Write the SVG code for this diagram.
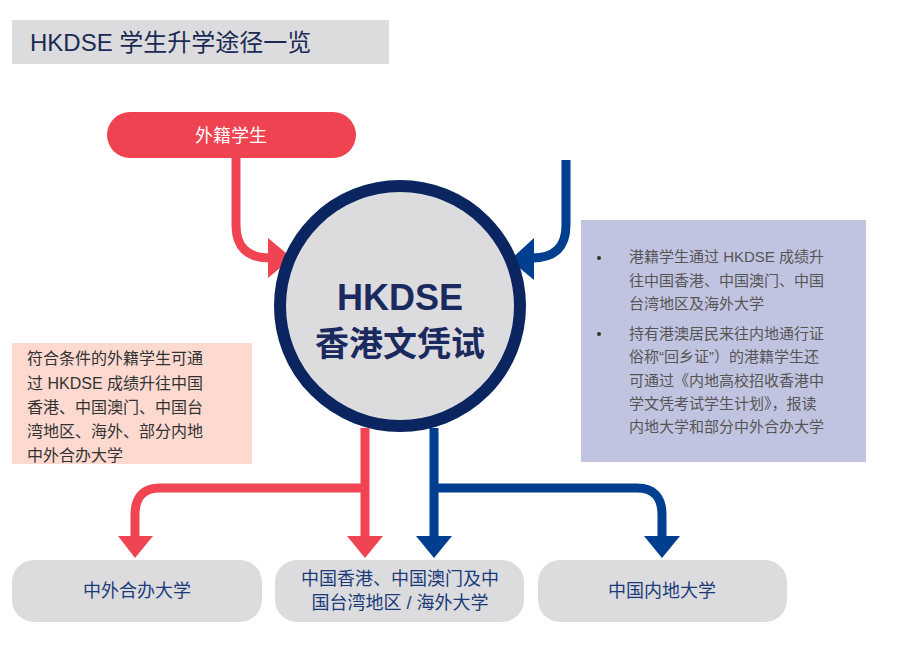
<svg xmlns="http://www.w3.org/2000/svg" width="920" height="659" viewBox="0 0 920 659">
<style>
text{font-family:"Liberation Sans","Noto Sans CJK SC",sans-serif}
.red{fill:none;stroke:#f04452;stroke-width:9}
.blue{fill:none;stroke:#003f8f;stroke-width:9}
.gbox{fill:#dcdcde}
.bt{fill:#1b3a7a;font-size:18px;text-anchor:middle}
.nt{fill:#555;font-size:15px}
.pt{fill:#333;font-size:16px}
</style>
<rect width="920" height="659" fill="#fff"/>
<g id="title"><rect x="12" y="20" width="377" height="44" fill="#dcdcde"/><text x="30" y="51" font-size="24" fill="#1b2a55">HKDSE 学生升学途径一览</text></g>
<g id="connectors">
<path class="red" d="M236 158 V225 Q236 258 270 258"/>
<polygon points="268,238 292,258 268,278" fill="#f04452"/>
<path class="blue" d="M566 160 V225 Q566 258 532 258"/>
<polygon points="534,238 510,260 534,280" fill="#003f8f"/>
<path class="red" d="M365 428 V540 M365 488 H160 Q135 488 135 515 V540"/>
<polygon points="118,536 153,536 135,558" fill="#f04452"/>
<polygon points="347,536 383,536 365,558" fill="#f04452"/>
<path class="blue" d="M434 428 V540 M434 488 H637 Q662 488 662 515 V540"/>
<polygon points="416,536 452,536 434,558" fill="#003f8f"/>
<polygon points="644,536 680,536 662,558" fill="#003f8f"/>
</g>
<g id="foreign"><rect x="107" y="112" width="249" height="46" rx="23" fill="#f04352"/><text x="231" y="142" font-size="18" fill="#fff" text-anchor="middle">外籍学生</text></g>
<g id="hkdse"><circle cx="400" cy="306" r="120" fill="#dcdcdf" stroke="#0b2560" stroke-width="12"/>
<text x="400" y="310" font-size="36" font-weight="bold" fill="#1b2a5e" text-anchor="middle">HKDSE</text>
<text x="400" y="356" font-size="34" font-weight="bold" fill="#1b2a5e" text-anchor="middle">香港文凭试</text></g>
<g id="note"><rect x="581" y="220" width="285" height="242" fill="#c1c4e0"/>
<circle cx="599" cy="258" r="2" fill="#333"/><circle cx="599" cy="334" r="2" fill="#333"/>
<text class="nt"><tspan x="629" y="262">港籍学生通过 HKDSE 成绩升</tspan><tspan x="629" y="286">往中国香港、中国澳门、中国</tspan><tspan x="629" y="309">台湾地区及海外大学</tspan>
<tspan x="629" y="339">持有港澳居民来往内地通行证</tspan><tspan x="629" y="362">俗称“回乡证”）的港籍学生还</tspan><tspan x="629" y="386">可通过《内地高校招收香港中</tspan><tspan x="629" y="409">学文凭考试学生计划》，报读</tspan><tspan x="629" y="432">内地大学和部分中外合办大学</tspan></text></g>
<g id="cond"><rect x="12" y="343" width="240" height="121" fill="#fdd9d0"/>
<text class="pt"><tspan x="27" y="364">符合条件的外籍学生可通</tspan><tspan x="27" y="389">过 HKDSE 成绩升往中国</tspan><tspan x="27" y="413">香港、中国澳门、中国台</tspan><tspan x="27" y="437">湾地区、海外、部分内地</tspan><tspan x="27" y="461">中外合办大学</tspan></text></g>
<g id="b1"><rect class="gbox" x="12" y="560" width="250" height="62" rx="22"/><text class="bt" x="137" y="597">中外合办大学</text></g>
<g id="b2"><rect class="gbox" x="275" y="560" width="249" height="62" rx="22"/><text class="bt" x="400" y="585" font-size="17">中国香港、中国澳门及中</text><text class="bt" x="400" y="609" font-size="17">国台湾地区 / 海外大学</text></g>
<g id="b3"><rect class="gbox" x="538" y="560" width="249" height="62" rx="22"/><text class="bt" x="662" y="597">中国内地大学</text></g>
</svg>
